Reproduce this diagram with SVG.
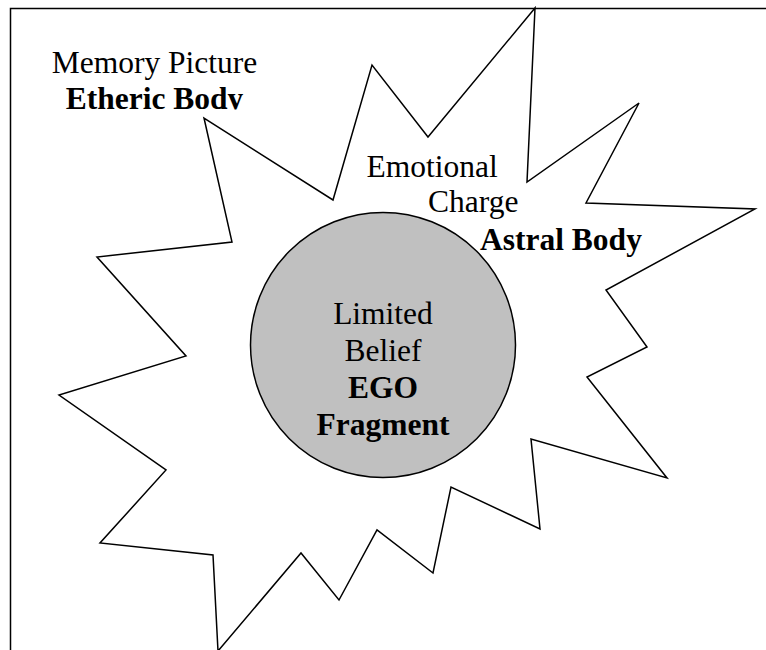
<svg xmlns="http://www.w3.org/2000/svg" width="766" height="650" viewBox="0 0 766 650">
  <style>
    .line { fill: none; stroke: #000; stroke-width: 1.5; stroke-linejoin: miter; }
    .t { font-family: "Liberation Serif", "Times New Roman", serif; font-size: 31.5px; fill: #000; }
    .b { font-weight: bold; }
    .m { text-anchor: middle; }
  </style>
  <defs>
    <clipPath id="clipEtheric">
      <rect x="0" y="0" width="400" height="109.5"/>
    </clipPath>
  </defs>
  <rect id="frame" x="10.5" y="8.5" width="800" height="700" class="line"/>
  <g id="astral-star">
    <polygon class="line" fill="#fff" points="535,8 527,182 639,103 586,203 755,209 606,290 647,347 587,377 667,478 531,439 540,529 451,487 433,573 377,530 339,600 301,553 218,651 213,555 100,543 166,470 59,395 186,356 97,257 232,242 204,118 333,200 372,65 428,137"/>
  </g>
  <g id="ego-circle">
    <circle cx="383" cy="345" r="132.5" fill="#c0c0c0" stroke="#000" stroke-width="1.5"/>
    <text class="t m" x="383" y="323.5">Limited</text>
    <text class="t m" x="383" y="360.5">Belief</text>
    <text class="t b m" x="383" y="397.5">EGO</text>
    <text class="t b m" x="383" y="434.5">Fragment</text>
  </g>
  <g id="etheric-label">
    <text class="t m" x="154.5" y="73">Memory Picture</text>
    <text class="t b m" x="154.5" y="108.5" clip-path="url(#clipEtheric)">Etheric Body</text>
  </g>
  <g id="astral-label">
    <text class="t" x="366.5" y="177">Emotional</text>
    <text class="t" x="428" y="212">Charge</text>
    <text class="t b" x="480" y="250">Astral Body</text>
  </g>
  <g id="connectors"></g>
</svg>
